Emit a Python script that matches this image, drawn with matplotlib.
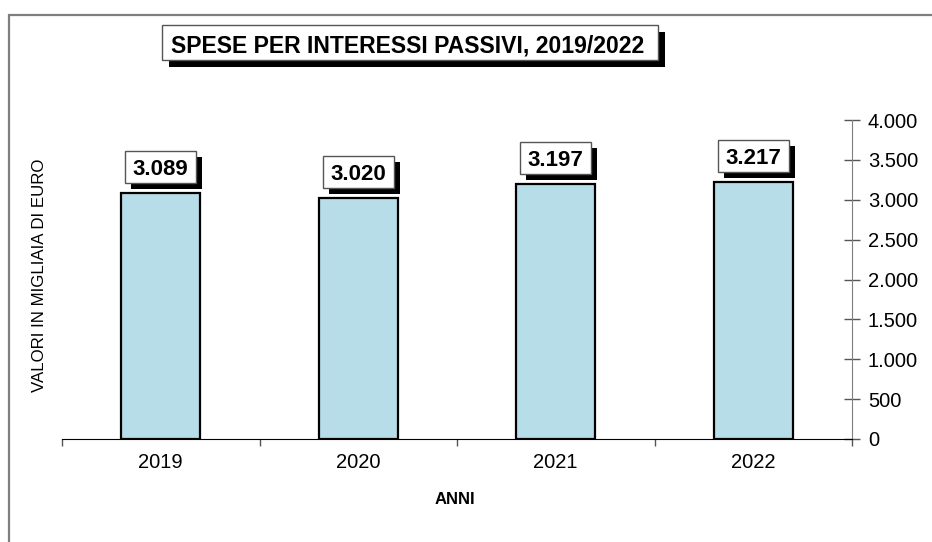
import numpy as np
import matplotlib.pyplot as plt
from matplotlib.patches import Rectangle
from matplotlib.ticker import FuncFormatter
import matplotlib.transforms as mtransforms

plt.rcParams['font.family'] = ['Liberation Sans', 'DejaVu Sans']

# dati
anni = ['2019', '2020', '2021', '2022']
valori = [3089, 3020, 3197, 3217]
titolo = 'SPESE PER INTERESSI PASSIVI, 2019/2022'

W, H = 932, 542
fig = plt.figure(figsize=(W / 100, H / 100), dpi=100)
inch = fig.dpi_scale_trans

# cornice esterna (tagliata a destra e in basso)
fig.patches.append(Rectangle((9 / W, -0.1), 1.2, (H - 15) / H + 0.1, transform=fig.transFigure,
                             fill=False, edgecolor='#7f7f7f', linewidth=1.6))

ax = fig.add_axes([62 / W, (H - 439) / H, 790 / W, (439 - 120) / H])
x = np.arange(len(anni)) + 0.5
ax.bar(x, valori, width=0.40, color='#b7dde8', edgecolor='black', linewidth=1.6, zorder=2)

ax.set_xlim(0, len(anni))
ax.set_ylim(0, 4000)
ax.yaxis.tick_right()
ax.spines['top'].set_visible(False)
ax.spines['left'].set_visible(False)
ax.spines['right'].set_color('#7f7f7f')
ax.spines['bottom'].set_color('black')
ax.set_yticks(np.arange(0, 4001, 500))
ax.yaxis.set_major_formatter(FuncFormatter(lambda v, p: f'{int(v):,}'.replace(',', '.')))
ax.tick_params(axis='y', direction='inout', length=11, width=1, color='#555555',
               labelsize=14.5, pad=6)
ax.set_xticks(np.arange(0, len(anni) + 1))
ax.set_xticklabels([])
ax.set_xticks(x, minor=True)
ax.set_xticklabels(anni, minor=True)
ax.tick_params(axis='x', which='major', direction='out', length=5, width=1, color='#555555')
ax.tick_params(axis='x', which='minor', length=0, labelsize=14.5, pad=10)

# etichette con ombra (riquadri in pollici ancorati alla cima della barra)
for xi, v in zip(x, valori):
    testo = f'{v:,}'.replace(',', '.')
    anchor = inch + mtransforms.ScaledTranslation(xi, v, ax.transData)
    ax.add_patch(Rectangle((-0.355 + 0.06, 0.10 - 0.06), 0.71, 0.32, transform=anchor,
                           facecolor='black', edgecolor='none', zorder=3, clip_on=False))
    ax.add_patch(Rectangle((-0.355, 0.10), 0.71, 0.32, transform=anchor,
                           facecolor='white', edgecolor='#555555', linewidth=1, zorder=4, clip_on=False))
    t_main = mtransforms.offset_copy(ax.transData, fig=fig, x=0, y=26, units='dots')
    ax.text(xi, v, testo, transform=t_main, ha='center', va='center_baseline', fontsize=16,
            fontweight='bold', color='black', zorder=5)

# titolo con ombra
fig.patches.append(Rectangle((1.62 + 0.07, 4.82 - 0.07), 4.96, 0.35, transform=inch,
                             facecolor='black', edgecolor='none'))
fig.patches.append(Rectangle((1.62, 4.82), 4.96, 0.35, transform=inch,
                             facecolor='white', edgecolor='#555555', linewidth=1))
fig.text(408 / W, 1 - 43 / H, titolo, ha='center', va='center_baseline', fontsize=16.6,
         fontweight='bold', color='black')

fig.text(40 / W, 1 - 275 / H, 'VALORI IN MIGLIAIA DI EURO', rotation=90, ha='center', va='center',
         fontsize=12.2)
fig.text(455 / W, 1 - 500 / H, 'ANNI', ha='center', va='center', fontsize=12, fontweight='bold')

fig.savefig('out.png', dpi=100)
